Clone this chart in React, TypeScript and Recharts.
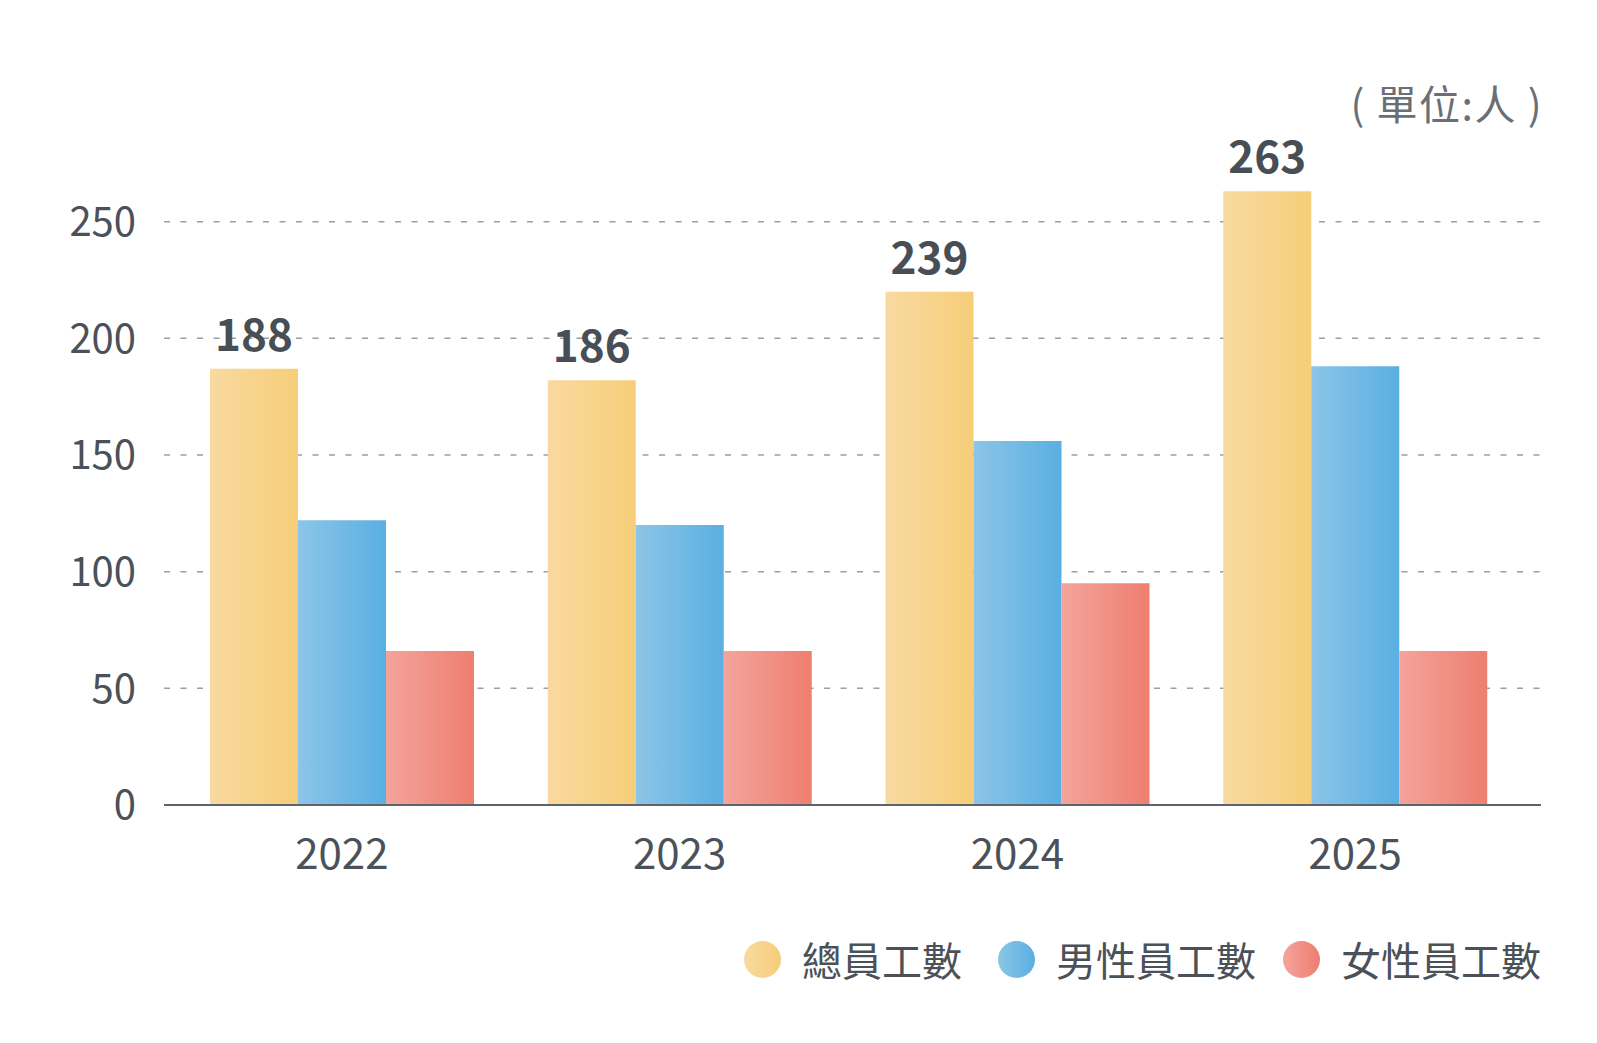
import React from "react";
import {
  BarChart,
  Bar,
  XAxis,
  YAxis,
  CartesianGrid,
  LabelList,
} from "recharts";

const years = ["2022", "2023", "2024", "2025"];
const totalStaff = [187, 182, 220, 263];
const maleStaff = [122, 120, 156, 188];
const femaleStaff = [66, 66, 95, 66];
const totalLabels = ["188", "186", "239", "263"];
const yTicks = [0, 50, 100, 150, 200, 250];

const seriesNames = ["總員工數", "男性員工數", "女性員工數"];
const gradients = [
  ["#f9d9a0", "#f6ce79"],
  ["#8cc5e7", "#5aafe2"],
  ["#f4a49b", "#ee7e70"],
];
// gap in front of each legend item
const legendGaps = [0, 36, 27];

const data = years.map((year, i) => ({
  year,
  total: totalStaff[i],
  male: maleStaff[i],
  female: femaleStaff[i],
  label: totalLabels[i],
}));

const FONT = '"Noto Sans CJK TC", "Noto Sans", sans-serif';
const TEXT = "#4b5159";

export default function App() {
  return (
    <div
      style={{
        position: "absolute",
        left: 0,
        top: 0,
        width: 1597,
        height: 1043,
        background: "#fff",
        fontFamily: FONT,
      }}
    >
      <div
        style={{
          position: "absolute",
          right: 54,
          top: 72,
          fontSize: 41,
          letterSpacing: 1.5,
          color: "#6a6f76",
          whiteSpace: "pre",
        }}
      >
        ( 單位:人 )
      </div>

      <BarChart
        width={1597}
        height={1043}
        data={data}
        margin={{ top: 105, right: 56, bottom: 158, left: 0 }}
        barCategoryGap={37}
        barGap={0}
      >
        <defs>
          {gradients.map(([from, to], i) => (
            <linearGradient key={i} id={`bar-${i}`} x1="0" y1="0" x2="1" y2="0">
              <stop offset="0%" stopColor={from} />
              <stop offset="100%" stopColor={to} />
            </linearGradient>
          ))}
        </defs>
        <CartesianGrid
          vertical={false}
          horizontalValues={yTicks}
          stroke="#9a9fa5"
          strokeWidth={1.5}
          strokeDasharray="6 10.5"
        />
        <XAxis
          dataKey="year"
          height={80}
          padding={{ left: 9, right: 17 }}
          tickLine={false}
          tickSize={0}
          tickMargin={34}
          axisLine={{ stroke: "#5d636a", strokeWidth: 2 }}
          tick={{ fontSize: 42, fill: TEXT }}
        />
        <YAxis
          width={164}
          domain={[0, 300]}
          ticks={yTicks}
          interval={0}
          axisLine={false}
          tickLine={false}
          tickSize={0}
          tickMargin={28}
          tick={{ fontSize: 40, fill: TEXT }}
        />
        <Bar dataKey="total" fill="url(#bar-0)" isAnimationActive={false}>
          <LabelList
            dataKey="label"
            position="top"
            offset={18}
            fill="#474e56"
            fontSize={44}
            fontWeight={700}
          />
        </Bar>
        <Bar dataKey="male" fill="url(#bar-1)" isAnimationActive={false} />
        <Bar dataKey="female" fill="url(#bar-2)" isAnimationActive={false} />
      </BarChart>

      <div
        style={{
          position: "absolute",
          right: 56,
          top: 934,
          display: "flex",
          alignItems: "center",
          fontSize: 40,
          color: TEXT,
        }}
      >
        {seriesNames.map((name, i) => (
          <div
            key={name}
            style={{
              display: "flex",
              alignItems: "center",
              marginLeft: legendGaps[i],
            }}
          >
            <span
              style={{
                width: 37,
                height: 37,
                borderRadius: "50%",
                marginRight: 21,
                background: `linear-gradient(to right, ${gradients[i][0]}, ${gradients[i][1]})`,
              }}
            />
            <span style={{ lineHeight: "50px" }}>{name}</span>
          </div>
        ))}
      </div>
    </div>
  );
}
